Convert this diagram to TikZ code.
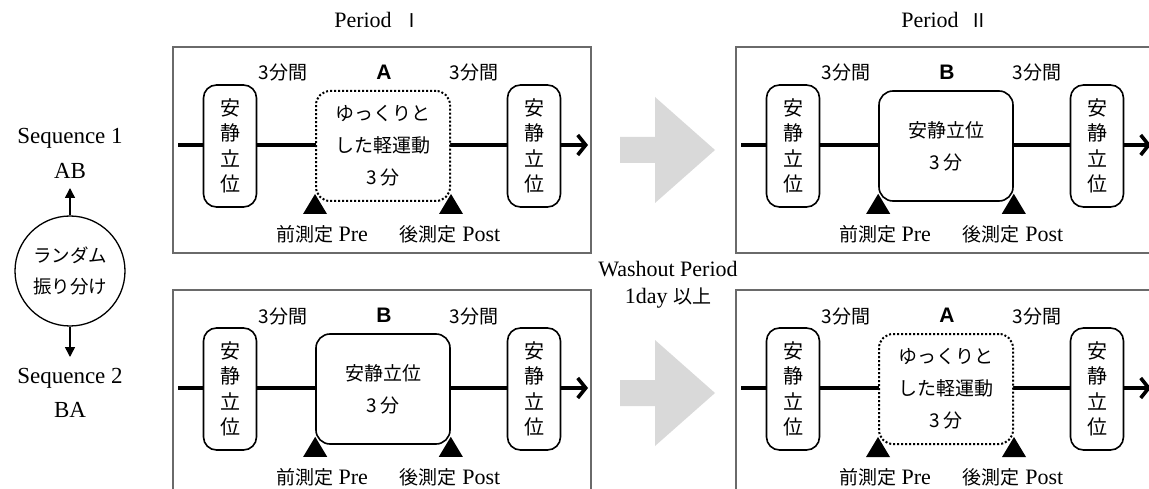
\documentclass[tikz,border=0pt]{standalone}
\usepackage{fontspec}
\setmainfont{Liberation Serif}
\newfontfamily\jpfont{Noto Sans CJK JP}
\newfontfamily\latinsans{Liberation Sans}
\usetikzlibrary{arrows.meta}
\usepackage{xcolor}
\definecolor{framegray}{HTML}{6A6A6A}
\definecolor{shiftgray}{HTML}{D9D9D9}

\tikzset{
  panelbox/.style={draw=framegray, line width=1.2pt, minimum width=418pt,
                   minimum height=206pt, inner sep=0pt},
  timeline/.style={line width=3.6pt, -{Straight Barb[length=8pt, width=20pt]}},
  restbox/.style={draw, fill=white, rounded corners=13pt, line width=1.6pt,
                  minimum width=53pt, minimum height=122pt, inner sep=0pt,
                  align=center, font=\jpfont\fontsize{20}{25.5}\selectfont},
  taskbox/.style={draw, fill=white, rounded corners=14pt, line width=1.6pt,
                  minimum width=134pt, minimum height=110pt, inner sep=0pt,
                  align=center, font=\jpfont\fontsize{19}{32}\selectfont},
  walkbox/.style={taskbox, line width=2pt, dash pattern=on 2pt off 2pt},
  durtext/.style={font=\jpfont\fontsize{19}{23}\selectfont},
  lettertext/.style={font=\latinsans\bfseries\fontsize{21}{23}\selectfont},
  meastext/.style={font=\fontsize{22}{26}\selectfont},
  seqtext/.style={font=\fontsize{23}{27}\selectfont},
}
\newcommand{\jp}[1]{{\jpfont\fontsize{19}{23}\selectfont #1}}

% one period box: name, shift, letter, style of the task box, task text
\newcommand{\trialpanel}[5]{%
  \begin{scope}[shift={#2}]
    \node[panelbox] (#1) at (209,103) {};
    \coordinate (#1start) at (5,98);
    \coordinate (#1end) at (415,98);
    \draw[timeline] (#1start) -- (#1end);
    \node[restbox] (#1before) at (57,99) {安\\静\\立\\位};
    \node[#4] (#1task) at (210,99) {#5};
    \node[restbox] (#1after) at (361,99) {安\\静\\立\\位};
    \node[durtext] (#1durL) at (110,26) {3分間};
    \node[lettertext] (#1letter) at (211,25) {#3};
    \node[durtext] (#1durR) at (301,26) {3分間};
    \fill ([yshift=8pt]#1task.south west) -- ++(12,20) -- ++(-24,0) -- cycle;
    \fill ([yshift=8pt]#1task.south east) -- ++(12,20) -- ++(-24,0) -- cycle;
    \node[meastext] (#1pre) at (149,187) {\jp{前測定} Pre};
    \node[meastext] (#1post) at (277,187) {\jp{後測定} Post};
  \end{scope}}

\begin{document}
\begin{tikzpicture}[x=1pt, y=-1pt]
  \useasboundingbox (0,0) rectangle (1149,489);

  % titles
  \node[meastext] (period1) at (378,20) {Period\enspace\jp{Ⅰ}};
  \node[meastext] (period2) at (945,20) {Period\enspace\jp{Ⅱ}};

  % allocation
  \node[seqtext] (seq1) at (70,138) {Sequence 1};
  \node[seqtext] (ab) at (70,171) {AB};
  \node[draw, circle, line width=1.3pt, minimum size=110pt, inner sep=0pt,
        align=center, font=\jpfont\fontsize{18.5}{31}\selectfont] (rand) at (70,271) {ランダム\\振り分け};
  \node[seqtext] (seq2) at (70,378) {Sequence 2};
  \node[seqtext] (ba) at (70,410) {BA};
  \coordinate (abtip) at (70,188);
  \coordinate (batip) at (70,357);
  \draw[line width=1.5pt, -{Triangle[length=10pt, width=10pt]}] (rand.north) -- (abtip);
  \draw[line width=1.5pt, -{Triangle[length=10pt, width=10pt]}] (rand.south) -- (batip);

  % periods
  \trialpanel{pa}{(173,47)}{A}{walkbox}{ゆっくりと\\した軽運動\\3 分}
  \trialpanel{pb}{(736,47)}{B}{taskbox}{安静立位\\3 分}
  \trialpanel{qa}{(173,290)}{B}{taskbox}{安静立位\\3 分}
  \trialpanel{qb}{(736,290)}{A}{walkbox}{ゆっくりと\\した軽運動\\3 分}

  % washout
  \fill[shiftgray] (620,137) -- (655,137) -- (655,97) -- (715,150) -- (655,203)
    -- (655,163) -- (620,163) -- cycle;
  \fill[shiftgray] (620,380) -- (655,380) -- (655,340) -- (715,393) -- (655,446)
    -- (655,406) -- (620,406) -- cycle;
  \node[meastext, align=center, font=\fontsize{22}{27}\selectfont] (washout) at (668,285)
    {Washout Period\\1day \jp{以上}};
\end{tikzpicture}
\end{document}
